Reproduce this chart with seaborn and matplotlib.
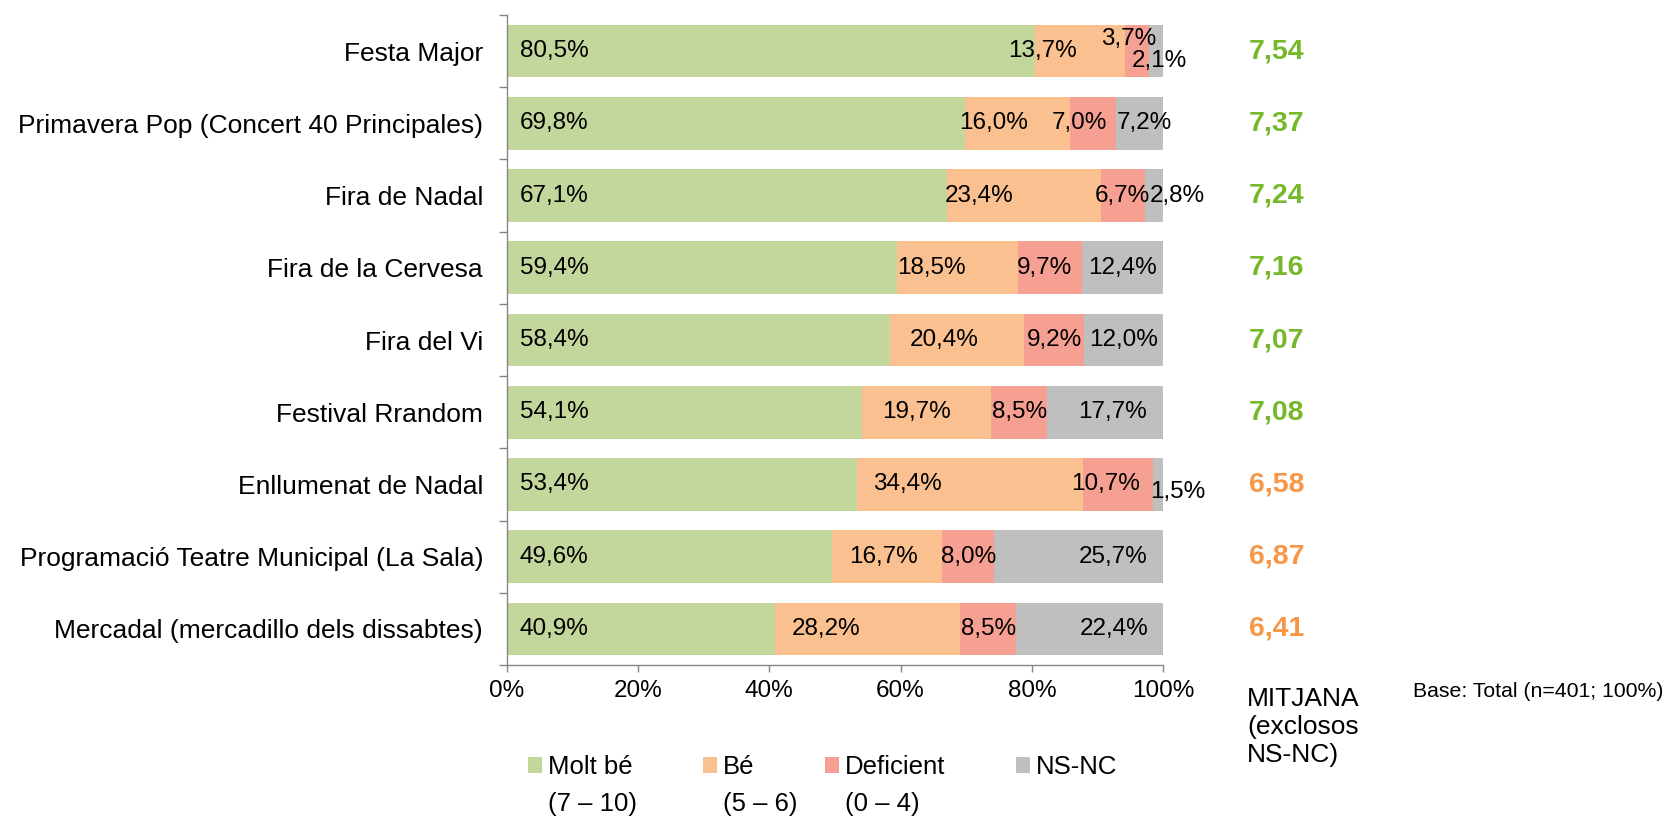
import matplotlib
matplotlib.use('Agg')
import matplotlib.pyplot as plt
import seaborn as sns
import pandas as pd
import numpy as np
from matplotlib.patches import Patch
from matplotlib.ticker import FixedLocator
from matplotlib.transforms import blended_transform_factory

# Data
events = [
    'Festa Major',
    'Primavera Pop (Concert 40 Principales)',
    'Fira de Nadal',
    'Fira de la Cervesa',
    'Fira del Vi',
    'Festival Rrandom',
    'Enllumenat de Nadal',
    'Programació Teatre Municipal (La Sala)',
    'Mercadal (mercadillo dels dissabtes)',
]
molt_be = [80.5, 69.8, 67.1, 59.4, 58.4, 54.1, 53.4, 49.6, 40.9]
be = [13.7, 16.0, 23.4, 18.5, 20.4, 19.7, 34.4, 16.7, 28.2]
deficient = [3.7, 7.0, 6.7, 9.7, 9.2, 8.5, 10.7, 8.0, 8.5]
ns_nc = [2.1, 7.2, 2.8, 12.4, 12.0, 17.7, 1.5, 25.7, 22.4]
mitjana = [7.54, 7.37, 7.24, 7.16, 7.07, 7.08, 6.58, 6.87, 6.41]

series = ['molt_be', 'be', 'def', 'ns']
legend_labels = ['Molt bé', 'Bé', 'Deficient', 'NS-NC']
legend_sub = ['(7 – 10)', '(5 – 6)', '(0 – 4)', '']
colors = {'molt_be': '#C3D69B', 'be': '#FAC090', 'def': '#F5A092', 'ns': '#BFBFBF'}

df = pd.DataFrame({'event': events, 'molt_be': molt_be, 'be': be,
                   'def': deficient, 'ns': ns_nc})
cum = df[series].cumsum(axis=1)
for s in series:
    df['cum_' + s] = cum[s]

# manual label nudges (dx in %, dy in bar units), like the hand-placed Excel labels
nudge = {
    (0, 'be'): (-5.7, 0), (0, 'def'): (-1.3, -0.17), (0, 'ns'): (0.5, 0.13),
    (1, 'be'): (-3.7, 0), (1, 'def'): (-2, 0), (1, 'ns'): (0.8, 0),
    (2, 'be'): (-6.8, 0), (2, 'ns'): (3.6, 0),
    (3, 'be'): (-4, 0), (3, 'def'): (-0.8, 0),
    (4, 'be'): (-2, 0),
    (5, 'be'): (-1.5, 0), (5, 'ns'): (1.2, 0),
    (6, 'be'): (-9.5, 0), (6, 'def'): (-2, 0), (6, 'ns'): (3, 0.1),
    (7, 'be'): (-0.5, 0), (7, 'ns'): (5.3, 0),
    (8, 'be'): (-6.4, 0), (8, 'ns'): (3.7, 0),
}

sns.set_style('white')
plt.rcParams['font.family'] = ['Liberation Sans', 'DejaVu Sans']
plt.rcParams['text.color'] = 'black'
plt.rcParams['xtick.labelcolor'] = 'black'
plt.rcParams['ytick.labelcolor'] = 'black'
gray = '#868686'

fig = plt.figure(figsize=(16.71, 8.16), dpi=100)
ax = fig.add_axes([0.3032, 0.185, 0.3929, 0.7966])

# stacked bars: draw cumulative totals from the back to the front
for s in reversed(series):
    sns.barplot(data=df, x='cum_' + s, y='event', orient='h', color=colors[s],
                saturation=1, width=0.73, linewidth=0, ax=ax)

def fmt(v):
    return f'{v:.1f}'.replace('.', ',') + '%'

for i, row in df.iterrows():
    start = 0
    for s in series:
        v = row[s]
        dx, dy = nudge.get((i, s), (0, 0))
        if s == 'molt_be':
            ax.text(2, i, fmt(v), ha='left', va='center', fontsize=17.5)
        else:
            ax.text(start + v / 2 + dx, i + dy, fmt(v), ha='center', va='center',
                    fontsize=17.5)
        start += v

# mean scores on the right
trans = blended_transform_factory(ax.transAxes, ax.transData)
for i, m in enumerate(mitjana):
    c = '#77B82A' if m >= 7 else '#F79646'
    ax.text(1.173, i, f'{m:.2f}'.replace('.', ','), transform=trans, ha='center',
            va='center', fontsize=20.5, fontweight='bold', color=c)

ax.set_xlim(0, 100)
ax.set_ylim(len(events) - 0.5, -0.5)
ax.set_xticks(range(0, 101, 20))
ax.set_xticklabels([f'{t}%' for t in range(0, 101, 20)])
ax.set_xlabel('')
ax.set_ylabel('')
ax.yaxis.set_minor_locator(FixedLocator(np.arange(-0.5, len(events), 1)))
ax.tick_params(axis='y', which='major', length=0, pad=17, labelsize=19)
ax.tick_params(axis='y', which='minor', left=True, length=6, color=gray, width=1)
ax.tick_params(axis='x', which='major', bottom=True, length=5, color=gray, width=1,
               pad=6, labelsize=17.5)
for side in ['top', 'right']:
    ax.spines[side].set_visible(False)
for side in ['left', 'bottom']:
    ax.spines[side].set_color(gray)
    ax.spines[side].set_linewidth(1)

# legend
handles = [Patch(facecolor=colors[s], edgecolor='none') for s in series]
leg = fig.legend(handles, legend_labels, ncol=4, loc='center left',
                 bbox_to_anchor=(528 / 1671, 1 - 767 / 816), frameon=False,
                 fontsize=18.5, handlelength=0.55, handleheight=0.55,
                 handletextpad=0.22, columnspacing=2.75, borderpad=0,
                 borderaxespad=0)
fig.canvas.draw()
renderer = fig.canvas.get_renderer()
W = fig.bbox.width
for t, sub in zip(leg.get_texts(), legend_sub):
    if sub:
        bb = t.get_window_extent(renderer)
        fig.text(bb.x0 / W, 1 - 804 / 816, sub, ha='left', va='center', fontsize=18.5)

# baseline of the last line sits at y=762 px
fig.text(1247 / 1671, 1 - 762 / 816, 'MITJANA\n(exclosos\nNS-NC)', ha='left',
         va='baseline', fontsize=19, linespacing=1.2)
fig.text(1413 / 1671, 1 - 697 / 816, 'Base: Total (n=401; 100%)', ha='left',
         va='baseline', fontsize=15.3)

fig.savefig('out.png', dpi=100)
